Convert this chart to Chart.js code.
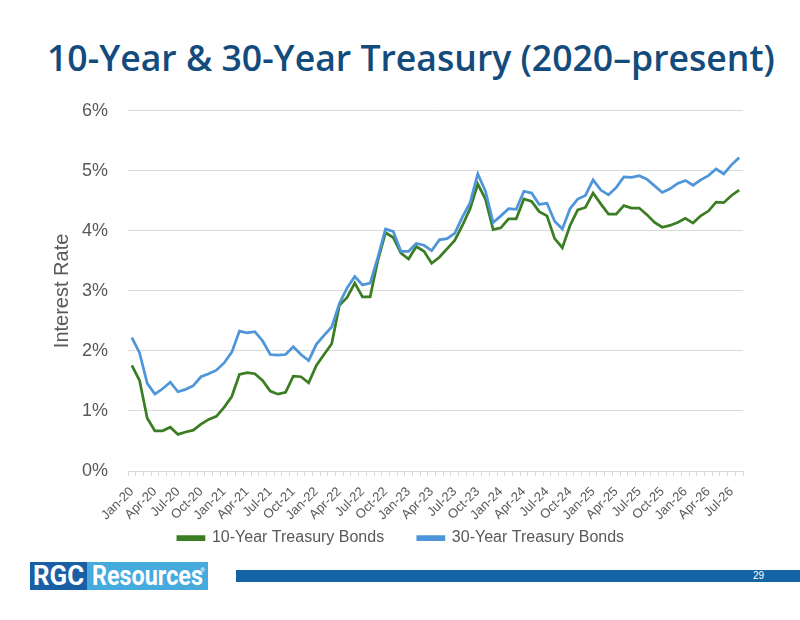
<!DOCTYPE html>
<html>
<head>
<meta charset="utf-8">
<script src="https://cdn.jsdelivr.net/npm/chart.js@4.4.1/dist/chart.umd.min.js"></script>
<style>
  body { margin: 0; width: 800px; height: 620px; position: relative; background: #fff; overflow: hidden; font-family: "Liberation Sans", Arial, sans-serif; }
  #title { position: absolute; left: 47px; top: 40px; margin: 0; font-family: "Open Sans", sans-serif; font-weight: 600; font-size: 36px; line-height: 1; color: #124b7c; white-space: nowrap; }
  #wrap { position: absolute; left: 0; top: 80px; width: 800px; height: 476px; }
  #logo { position: absolute; left: 30px; top: 562px; height: 28px; font-family: "Roboto", sans-serif; font-weight: 700; color: #fff; }
  #logo .box { position: absolute; top: 0; height: 28px; overflow: hidden; }
  #logo .rgc { left: 0; width: 57px; background: #1a5fa6; }
  #logo .res { left: 57px; width: 121px; background: #45aade; }
  #logo .txt { position: absolute; top: 0; font-size: 27px; line-height: 28px; white-space: nowrap; transform-origin: 0 50%; }
  #logo .reg { position: absolute; right: 3px; top: 4px; font-size: 6px; font-weight: 400; }
  #bar { position: absolute; left: 236px; top: 570px; width: 564px; height: 12px; background: #1464a5; }
  #pg { position: absolute; right: 36px; top: 0; font-size: 10px; line-height: 12px; color: #fff; }
</style>
</head>
<body>
<h1 id="title">10-Year &amp; 30-Year Treasury (2020–present)</h1>
<div id="wrap"><canvas id="chart" width="800" height="476"></canvas></div>
<div id="logo">
  <div class="box rgc"><span class="txt" id="t1">RGC</span></div>
  <div class="box res"><span class="txt" id="t2">Resources</span><span class="reg">®</span></div>
</div>
<div id="bar"><div id="pg">29</div></div>
<script>
// monthly categories, Jan-20 .. Aug-26
const months = [
  "Jan-20","Feb-20","Mar-20","Apr-20","May-20","Jun-20","Jul-20","Aug-20","Sep-20","Oct-20","Nov-20","Dec-20",
  "Jan-21","Feb-21","Mar-21","Apr-21","May-21","Jun-21","Jul-21","Aug-21","Sep-21","Oct-21","Nov-21","Dec-21",
  "Jan-22","Feb-22","Mar-22","Apr-22","May-22","Jun-22","Jul-22","Aug-22","Sep-22","Oct-22","Nov-22","Dec-22",
  "Jan-23","Feb-23","Mar-23","Apr-23","May-23","Jun-23","Jul-23","Aug-23","Sep-23","Oct-23","Nov-23","Dec-23",
  "Jan-24","Feb-24","Mar-24","Apr-24","May-24","Jun-24","Jul-24","Aug-24","Sep-24","Oct-24","Nov-24","Dec-24",
  "Jan-25","Feb-25","Mar-25","Apr-25","May-25","Jun-25","Jul-25","Aug-25","Sep-25","Oct-25","Nov-25","Dec-25",
  "Jan-26","Feb-26","Mar-26","Apr-26","May-26","Jun-26","Jul-26","Aug-26"
];

// 10-year yields, percent
const tenYear = [
  1.76, 1.51, 0.88, 0.67, 0.67, 0.73, 0.61, 0.65, 0.68, 0.78, 0.86, 0.91,
  1.06, 1.24, 1.61, 1.64, 1.62, 1.51, 1.33, 1.28, 1.31, 1.58, 1.57, 1.47,
  1.76, 1.94, 2.12, 2.76, 2.89, 3.13, 2.90, 2.90, 3.51, 3.97, 3.89, 3.63,
  3.53, 3.74, 3.66, 3.46, 3.56, 3.70, 3.84, 4.09, 4.37, 4.78, 4.53, 4.02,
  4.05, 4.20, 4.20, 4.53, 4.49, 4.32, 4.25, 3.87, 3.72, 4.09, 4.35, 4.39,
  4.63, 4.45, 4.28, 4.28, 4.42, 4.38, 4.38, 4.27, 4.14, 4.06, 4.09, 4.14,
  4.21, 4.13, 4.25, 4.33, 4.48, 4.47, 4.59, 4.68
];

// 30-year yields, percent
const thirtyYear = [
  2.22, 1.97, 1.46, 1.28, 1.37, 1.48, 1.32, 1.36, 1.42, 1.57, 1.62, 1.68,
  1.80, 1.98, 2.33, 2.30, 2.32, 2.17, 1.94, 1.93, 1.94, 2.07, 1.94, 1.84,
  2.11, 2.26, 2.40, 2.79, 3.05, 3.24, 3.10, 3.13, 3.56, 4.03, 3.99, 3.66,
  3.66, 3.79, 3.76, 3.67, 3.85, 3.87, 3.96, 4.23, 4.47, 4.95, 4.66, 4.14,
  4.25, 4.37, 4.36, 4.66, 4.63, 4.44, 4.46, 4.16, 4.03, 4.37, 4.53, 4.59,
  4.85, 4.68, 4.60, 4.72, 4.90, 4.89, 4.92, 4.86, 4.75, 4.64, 4.70, 4.79,
  4.84, 4.76, 4.85, 4.92, 5.03, 4.95, 5.10, 5.22
];

const seriesNames = ["10-Year Treasury Bonds", "30-Year Treasury Bonds"];
const seriesColors = ["#3b7d23", "#4e95d9"];
const yTicks = [0, 1, 2, 3, 4, 5, 6];

// fit title to the slide width
const title = document.getElementById("title");
const fs = 36 * 728 / title.getBoundingClientRect().width;
title.style.fontSize = fs.toFixed(1) + "px";

// squeeze logo words into their boxes (no narrow font installed)
function squeeze(id, left, width) {
  const el = document.getElementById(id);
  const w = el.getBoundingClientRect().width;
  el.style.left = left + "px";
  el.style.transform = "scaleX(" + (width / w).toFixed(3) + ")";
}
squeeze("t1", 3, 51);
squeeze("t2", 5, 111);

// nudge the legend so it centres on the slide rather than the padded box
const legendShift = {
  id: "legendShift",
  afterLayout(chart) {
    if (chart.legend) {
      chart.legend.left += 7;
      chart.legend.right += 7;
    }
  },
};

const gray = "#595959";
const ctx = document.getElementById("chart").getContext("2d");
new Chart(ctx, {
  type: "line",
  data: {
    labels: months,
    datasets: [
      {
        label: seriesNames[0],
        data: tenYear,
        borderColor: seriesColors[0],
        backgroundColor: seriesColors[0],
        borderWidth: 2.75,
        pointRadius: 0,
        tension: 0,
        order: 1,
      },
      {
        label: seriesNames[1],
        data: thirtyYear,
        borderColor: seriesColors[1],
        backgroundColor: seriesColors[1],
        borderWidth: 2.75,
        pointRadius: 0,
        tension: 0,
        order: 0,
      },
    ],
  },
  options: {
    responsive: false,
    animation: false,
    layout: { padding: { left: 45, right: 57, top: 10, bottom: 0 } },
    scales: {
      x: {
        offset: true,
        grid: { display: true, drawOnChartArea: false, drawTicks: true, tickLength: 5, color: "#d9d9d9", offset: true },
        border: { color: "#d9d9d9" },
        ticks: {
          autoSkip: false,
          minRotation: 45,
          maxRotation: 45,
          padding: 8,
          color: gray,
          font: { family: "Liberation Sans", size: 13 },
          callback: (v, i) => (i % 3 === 0 ? months[i] : ""),
        },
        afterFit: (scale) => { scale.height = 52; },
      },
      y: {
        min: yTicks[0],
        max: yTicks[yTicks.length - 1],
        afterBuildTicks: (scale) => { scale.ticks = yTicks.map((v) => ({ value: v })); },
        grid: { color: "#d9d9d9", drawTicks: false },
        border: { display: false },
        ticks: {
          padding: 20,
          color: gray,
          font: { family: "Liberation Sans", size: 18 },
          callback: (v) => v + "%",
        },
        title: {
          display: true,
          text: "Interest Rate",
          color: gray,
          font: { family: "Liberation Sans", size: 20 },
          padding: { top: 5, bottom: 0 },
        },
        afterFit: (scale) => { scale.width = 83; },
      },
    },
    plugins: {
      legend: {
        position: "bottom",
        labels: {
          boxWidth: 26,
          boxHeight: 3,
          padding: 7,
          color: gray,
          font: { family: "Liberation Sans", size: 16 },
          sort: (a, b) => a.datasetIndex - b.datasetIndex,
          // widen the gap after the first entry, as on the slide
          generateLabels: (chart) => {
            const items = Chart.defaults.plugins.legend.labels.generateLabels(chart);
            items.forEach((it) => {
              if (it.datasetIndex === 0) it.text += "\u00a0\u00a0\u00a0\u00a0\u00a0\u00a0";
            });
            return items;
          },
        },
      },
      tooltip: { enabled: false },
    },
  },
  plugins: [legendShift],
});
</script>
</body>
</html>
